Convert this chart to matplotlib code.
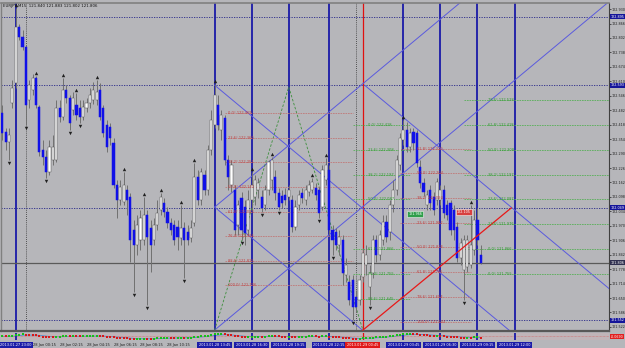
import numpy as np
import matplotlib
matplotlib.use("Agg")
import matplotlib.pyplot as plt
from matplotlib import transforms
from datetime import datetime, timedelta

# ---------------------------------------------------------------
# data (EURJPY M15, one bar every 15 minutes)
# ---------------------------------------------------------------
symbol = "EURJPY,M15"
start_time = datetime(2013, 1, 27, 22, 0)
bar_minutes = 15

opens = [122.469, 122.385, 122.341, 122.514, 122.602, 122.850, 122.806, 122.762, 122.527, 122.571,
         122.625, 122.496, 122.306, 122.274, 122.208, 122.261, 122.261, 122.492, 122.452, 122.571,
         122.536, 122.483, 122.505, 122.492, 122.452, 122.492, 122.514, 122.527, 122.527, 122.571,
         122.492, 122.416, 122.407, 122.337, 122.150, 122.084, 122.075, 122.128, 122.097, 121.951,
         121.885, 121.907, 121.907, 122.018, 121.960, 121.907, 121.973, 122.040, 122.071, 122.031,
         121.982, 121.973, 121.964, 121.916, 121.960, 121.942, 121.916, 121.982, 122.186, 122.084,
         122.195, 122.128, 122.306, 122.416, 122.505, 122.394, 122.447, 122.261, 122.150, 122.128,
         121.973, 122.093, 122.053, 121.951, 122.084, 122.097, 122.128, 122.097, 122.062, 122.128,
         122.173, 122.186, 122.115, 122.102, 122.106, 122.097, 122.084, 121.964, 122.062, 122.115,
         122.084, 122.119, 122.128, 122.137, 122.128, 122.053, 122.173, 122.217, 121.951, 121.942,
         121.885, 121.907, 121.752, 121.721, 121.730, 121.654, 121.641, 121.743, 121.796, 121.699,
         121.761, 121.907, 121.840, 121.907, 121.987, 121.942, 122.062, 122.128, 122.239, 122.350,
         122.394, 122.319, 122.385, 122.381, 122.230, 122.159, 122.062, 122.128, 122.097, 122.084,
         122.084, 122.128, 122.062, 122.071, 122.040, 121.964, 121.827, 121.774, 121.787, 121.796,
         121.863, 121.995, 121.840]
highs = [122.505, 122.403, 122.403, 122.616, 122.935, 122.864, 122.837, 122.771, 122.616, 122.642,
         122.633, 122.505, 122.350, 122.306, 122.350, 122.372, 122.527, 122.527, 122.625, 122.593,
         122.549, 122.562, 122.558, 122.527, 122.527, 122.536, 122.580, 122.607, 122.616, 122.602,
         122.505, 122.438, 122.425, 122.359, 122.173, 122.173, 122.208, 122.150, 122.115, 121.995,
         122.018, 122.040, 122.097, 122.040, 121.995, 122.004, 122.084, 122.115, 122.093, 122.053,
         122.004, 121.995, 121.995, 122.062, 121.987, 121.973, 121.995, 122.248, 122.217, 122.226,
         122.217, 122.328, 122.483, 122.598, 122.549, 122.483, 122.461, 122.283, 122.261, 122.150,
         122.084, 122.119, 122.084, 122.128, 122.208, 122.195, 122.181, 122.128, 122.150, 122.261,
         122.274, 122.217, 122.137, 122.128, 122.137, 122.150, 122.106, 122.084, 122.128, 122.137,
         122.150, 122.173, 122.181, 122.159, 122.142, 122.239, 122.270, 122.239, 121.973, 121.960,
         121.951, 121.929, 121.827, 121.752, 121.752, 121.685, 121.752, 121.871, 121.885, 121.796,
         121.929, 121.929, 121.951, 122.018, 122.018, 122.084, 122.173, 122.283, 122.381, 122.438,
         122.430, 122.403, 122.403, 122.394, 122.261, 122.181, 122.128, 122.150, 122.119, 122.181,
         122.150, 122.150, 122.084, 122.084, 122.062, 121.987, 121.916, 121.929, 121.929, 122.062,
         122.040, 122.049, 121.883]
lows = [122.350, 122.306, 122.261, 122.492, 122.580, 122.793, 122.749, 122.416, 122.492, 122.549,
        122.492, 122.279, 122.239, 122.181, 122.195, 122.239, 122.252, 122.430, 122.438, 122.514,
        122.394, 122.461, 122.438, 122.425, 122.438, 122.474, 122.492, 122.509, 122.505, 122.438,
        122.363, 122.297, 122.328, 122.137, 122.004, 122.062, 122.062, 122.018, 121.809, 121.676,
        121.840, 121.863, 121.885, 121.619, 121.765, 121.885, 121.951, 122.018, 122.009, 121.960,
        121.929, 121.885, 121.863, 121.885, 121.738, 121.885, 121.898, 121.969, 122.062, 122.062,
        122.106, 122.106, 122.283, 122.403, 122.394, 122.350, 122.239, 122.128, 122.119, 121.929,
        121.929, 121.907, 121.885, 121.929, 122.040, 122.062, 122.093, 122.031, 122.040, 122.106,
        122.128, 122.084, 122.040, 122.049, 122.062, 122.084, 121.942, 121.951, 122.040, 122.071,
        122.062, 122.102, 122.115, 122.084, 122.004, 122.040, 122.150, 121.929, 121.840, 121.863,
        121.840, 121.707, 121.721, 121.619, 121.552, 121.588, 121.619, 121.721, 121.752, 121.619,
        121.738, 121.809, 121.818, 121.885, 121.898, 121.907, 122.031, 122.106, 122.217, 122.328,
        122.297, 122.297, 122.306, 122.230, 122.137, 122.102, 122.040, 122.040, 122.018, 122.062,
        122.062, 122.004, 121.995, 121.929, 121.907, 121.809, 121.796, 121.641, 121.765, 121.783,
        121.840, 121.885, 121.802]
closes = [122.381, 122.341, 122.372, 122.580, 122.850, 122.806, 122.762, 122.505, 122.593, 122.625,
          122.505, 122.297, 122.274, 122.208, 122.319, 122.319, 122.492, 122.452, 122.571, 122.536,
          122.425, 122.536, 122.461, 122.452, 122.496, 122.514, 122.549, 122.571, 122.562, 122.452,
          122.381, 122.319, 122.359, 122.150, 122.084, 122.142, 122.150, 122.084, 121.907, 121.885,
          121.973, 122.004, 122.018, 121.920, 121.885, 121.973, 122.026, 122.097, 122.031, 121.982,
          121.951, 121.907, 121.920, 121.960, 121.907, 121.907, 121.960, 122.186, 122.084, 122.208,
          122.128, 122.306, 122.438, 122.549, 122.416, 122.461, 122.261, 122.186, 122.239, 121.951,
          122.062, 121.951, 121.938, 122.084, 122.150, 122.173, 122.159, 122.049, 122.128, 122.252,
          122.261, 122.115, 122.053, 122.071, 122.084, 122.128, 121.964, 122.053, 122.106, 122.093,
          122.128, 122.150, 122.164, 122.106, 122.026, 122.217, 122.239, 121.951, 121.907, 121.885,
          121.920, 121.761, 121.796, 121.641, 121.610, 121.610, 121.730, 121.849, 121.840, 121.761,
          121.907, 121.840, 121.929, 121.987, 121.920, 122.062, 122.128, 122.261, 122.359, 122.394,
          122.319, 122.381, 122.337, 122.248, 122.159, 122.119, 122.106, 122.071, 122.040, 122.164,
          122.128, 122.026, 122.018, 121.951, 121.951, 121.827, 121.894, 121.907, 121.907, 121.885,
          121.995, 121.907, 121.806]

up_fractals = [4, 10, 18, 22, 28, 36, 42, 47, 53, 57, 63, 74, 80, 92, 96, 119, 139]
down_fractals = [2, 7, 13, 20, 23, 39, 43, 54, 71, 77, 82, 94, 98, 104, 109, 137]

# vertical lines (bar index)
blue_vlines = [4, 63, 74, 85, 97, 119, 130, 141, 152]
red_vline = 107
dotted_vlines = [7, 105]

# horizontal lines (price)
dotted_hlines = [122.895, 122.593, 122.049, 121.552]
bid_line = 121.806

# gann box diagonals: (bar0, price0, bar1, price1)
gann_lines = [
    (63, 122.593, 151, 121.500),
    (107.5, 122.593, 181, 121.680),
    (63, 122.053, 107.5, 121.500),
    (63, 121.508, 181, 122.975),
    (63, 122.053, 136, 122.960),
]
red_trend = (107, 121.508, 151, 122.049)
zigzag_x = [63, 85, 107]
zigzag_y = [121.508, 122.585, 121.508]

# level sets
red_left_levels = [122.469, 122.360, 122.251, 122.142, 122.033, 121.924, 121.815, 121.706]
red_left_names = ["0.0", "23.6", "38.2", "50.0", "61.8", "76.4", "88.6", "100.0"]
red_right_levels = [122.310, 122.204, 122.093, 121.982, 121.876, 121.765, 121.654, 121.543]
red_right_names = ["61.8", "50.0", "38.2", "23.6", "50.0", "61.8", "78.6", "100.0"]
green_left_levels = [122.418, 122.308, 122.197, 122.087, 121.866, 121.755, 121.645]
green_left_names = ["0.0", "23.6", "38.2", "50.0", "61.8", "76.4", "88.6"]
green_right_levels = [122.528, 122.418, 122.308, 122.197, 122.087, 121.976, 121.866, 121.755]
green_right_names = ["78.6", "61.8", "50.0", "38.2", "23.6", "23.6", "0.0", "0.0"]

# small price tags drawn on the chart: (bar, price, text, colour)
price_tags = [(122.5, 122.022, "121.966", "#2e9e4a"), (137, 122.031, "122.105", "#d84040")]

price_ticks = np.round(122.930 - 0.064 * np.arange(23), 3)
time_label_bars = [9, 17, 25, 33, 41, 49]

# ---------------------------------------------------------------
W, H = 625, 348
BG = "#b6b6ba"
BLUE = "#1a1aa8"
FS = 2.6
fig = plt.figure(figsize=(W / 100, H / 100), dpi=100)
fig.patch.set_facecolor(BG)


def fy(py):
    return 1 - py / H


ax = fig.add_axes([1 / W, fy(331), 608 / W, 328 / H])
ax.set_facecolor(BG)
ax.set_xlim((1 - 2.3) / 3.37, (609 - 2.3) / 3.37)
ax.set_ylim(121.504, 122.957)

n = len(closes)
x = np.arange(n)
o = np.array(opens); h = np.array(highs); l = np.array(lows); c = np.array(closes)
up = c >= o

# wicks
ax.vlines(x, l, h, color="#707070", lw=0.7, zorder=3)
# bodies
ax.bar(x[up], c[up] - o[up], bottom=o[up], width=0.64, color="white",
       edgecolor="#505050", lw=0.35, zorder=4)
ax.bar(x[~up], o[~up] - c[~up], bottom=c[~up], width=0.64, color="#1010e8",
       edgecolor="#1010e8", lw=0.35, zorder=4)

# fractal arrows
ax.scatter(up_fractals, h[up_fractals] + 0.014, marker="^", s=6, color="#202020", zorder=5, lw=0)
ax.scatter(down_fractals, l[down_fractals] - 0.014, marker="v", s=6, color="#202020", zorder=5, lw=0)

# vertical lines
for b in blue_vlines:
    ax.axvline(b, color=BLUE, lw=1.3, zorder=2)
ax.axvline(red_vline, color="#e01010", lw=0.9, zorder=2)
for b in dotted_vlines:
    ax.axvline(b, color="#303030", lw=0.6, ls=(0, (1, 1.5)), zorder=2)

# horizontal lines
for p in dotted_hlines:
    ax.axhline(p, color="#26268a", lw=0.6, ls=(0, (1.5, 1.5)), zorder=2)
ax.axhline(bid_line, color="#5a5a5a", lw=0.9, zorder=2)

# gann diagonals
for x0, y0, x1, y1 in gann_lines:
    ax.plot([x0, x1], [y0, y1], color="#5a5ade", lw=0.7, zorder=2)
ax.plot([red_trend[0], red_trend[2]], [red_trend[1], red_trend[3]], color="#e81818", lw=0.9, zorder=6)
ax.plot(zigzag_x, zigzag_y, color="#3d8f3d", lw=0.6, ls=(0, (3, 2)), zorder=2)

# level sets
lab = dict(fontsize=FS, zorder=7, va="center", ha="left")
for p, name in zip(red_left_levels, red_left_names):
    ax.hlines(p, 66, 104, color="#c07878", lw=0.6, ls=(0, (2, 1)), zorder=2)
    ax.text(67, p, f"{name}° {p:.3f}", color="#c04040", **lab)
for p, name in zip(red_right_levels, red_right_names):
    ax.hlines(p, 118, 139, color="#c07878", lw=0.6, ls=(0, (2, 1)), zorder=2)
    ax.text(123, p, f"{name}° {p:.3f}", color="#c04040", **lab)
for p, name in zip(green_left_levels, green_left_names):
    ax.hlines(p, 104, 121, color="#58b058", lw=0.6, ls=(0, (2, 1)), zorder=2)
    ax.text(108.5, p, f"{name}° {p:.3f}", color="#2f9a2f", **lab)
for p, name in zip(green_right_levels, green_right_names):
    ax.hlines(p, 137, 181, color="#58b058", lw=0.6, ls=(0, (2, 1)), zorder=2)
    ax.text(144, p, f"{name}° {p:.3f}", color="#2f9a2f", **lab)

for b, p, txt, col in price_tags:
    ax.text(b, p, txt, fontsize=2.4, color="white", ha="center", va="center", zorder=8,
            bbox=dict(boxstyle="square,pad=0.25", fc=col, ec="#f0f0f0", lw=0.4))

# title
ax.text(0.003, 0.996, f"{symbol}  {opens[-1]:.3f} {highs[-1]:.3f} {lows[-1]:.3f} {closes[-1]:.3f}",
        transform=ax.transAxes, fontsize=2.8, va="top", ha="left", color="#101010")

# price axis
ax.yaxis.tick_right()
ax.set_yticks(price_ticks)
ax.set_yticklabels([f"{t:.3f}" for t in price_ticks])
ax.tick_params(axis="y", labelsize=2.4, length=1.2, width=0.5, pad=0.4, colors="#202020")
ax.tick_params(axis="x", bottom=False, labelbottom=False)
for side, col, lw in [("left", "#808080", 1.0), ("top", "#808080", 1.2),
                      ("right", "#404040", 0.8), ("bottom", "#585858", 1.6)]:
    ax.spines[side].set_color(col)
    ax.spines[side].set_linewidth(lw)

yax = transforms.blended_transform_factory(ax.transAxes, ax.transData)
box_style = dict(fontsize=2.4, ha="left", va="center", color="white", zorder=8, clip_on=False)
for p in dotted_hlines:
    ax.text(1.0025, p, f"{p:.3f}", transform=yax,
            bbox=dict(boxstyle="square,pad=0.15", fc="#14149a", ec="none"), **box_style)
ax.text(1.0025, bid_line, f"{bid_line:.3f}", transform=yax,
        bbox=dict(boxstyle="square,pad=0.15", fc="#303050", ec="none"), **box_style)

# indicator strip
ind = fig.add_axes([1 / W, fy(340), 608 / W, 7 / H])
ind.set_facecolor("#c0b4b8")
ind.set_xlim(ax.get_xlim())


def ema(v, span):
    a = 2 / (span + 1)
    out = np.empty(len(v))
    out[0] = v[0]
    for i in range(1, len(v)):
        out[i] = a * v[i] + (1 - a) * out[i - 1]
    return out


osc = ema(c, 8) - ema(c, 21)
sig = ema(osc, 6)
rising = np.r_[True, np.diff(osc) >= 0]
ind.scatter(x[rising], osc[rising], s=1.2, marker="s", color="#18c018", lw=0, zorder=3)
ind.scatter(x[~rising], osc[~rising], s=1.2, marker="s", color="#d81818", lw=0, zorder=3)
ind.plot(x, sig, color="#4a8ad0", lw=0.6, zorder=2)
ind.axhline(0, color="#d07070", lw=0.5, ls=(0, (1, 1)))
pad = (osc.max() - osc.min()) * 0.15
ind.set_ylim(osc.min() - pad, osc.max() + pad)
ind.set_xticks([]); ind.set_yticks([])
for s in ind.spines.values():
    s.set_visible(False)
for b in blue_vlines:
    ind.axvline(b, color=BLUE, lw=1.3)
ind.axvline(red_vline, color="#e01010", lw=0.9)
ind.text(1.0025, 0.5, f"{osc[-1]:.4f}", transform=ind.transAxes, fontsize=2.3, color="white",
         va="center", ha="left", clip_on=False,
         bbox=dict(boxstyle="square,pad=0.15", fc="#e02020", ec="none"))

# time axis labels
tx = transforms.blended_transform_factory(ax.transData, fig.transFigure)
for b in time_label_bars:
    t = start_time + timedelta(minutes=bar_minutes * b)
    ax.text(b, fy(347), t.strftime("%d %b %H:%M"), transform=tx, fontsize=FS,
            ha="left", va="bottom", color="#202020", clip_on=False, zorder=1)
for b in blue_vlines + [red_vline]:
    t = start_time + timedelta(minutes=bar_minutes * b)
    fc = "#e01818" if b == red_vline else "#1c1ca8"
    ax.text(b, fy(345.5), t.strftime("%Y.%m.%d %H:%M"), transform=tx, fontsize=2.5,
            ha="center", va="center", color="white", clip_on=False, zorder=9,
            bbox=dict(boxstyle="square,pad=0.5", fc=fc, ec="none"))

fig.savefig("out.png", dpi=100, facecolor=BG)
